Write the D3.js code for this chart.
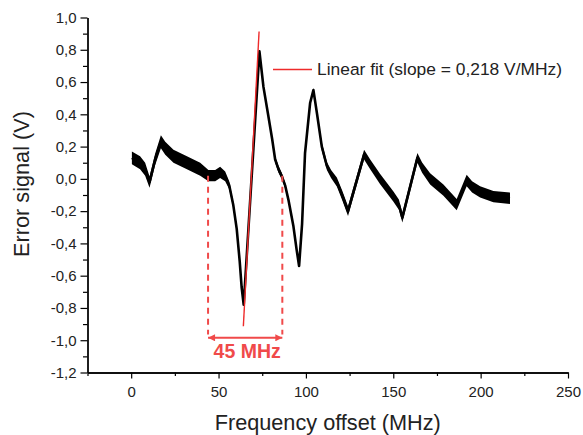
<!DOCTYPE html>
<html>
<head>
<meta charset="utf-8">
<script src="https://cdn.jsdelivr.net/npm/d3@7"></script>
<style>
  html, body { margin: 0; padding: 0; background: #fff; }
  svg { display: block; }
  text { font-family: "Liberation Sans", Arial, sans-serif; }
</style>
</head>
<body>
<svg id="chart" width="583" height="435"></svg>
<script>
// ---- data ----
const freq = [0.4, 5.1, 8.0, 10.5, 13.7, 17.0, 19.5, 24.2, 31.9, 39.5, 44.2, 48.1, 50.9,
              53.8, 56.1, 58.4, 60.4, 62.1, 63.2, 64.4,
              73.4, 75.7, 78.5, 80.7, 82.4, 84.3, 86.2, 88.1, 90.0, 92.8, 94.7, 96.1,
              97.8, 99.5, 102.4, 104.3, 106.4, 109.1, 112.0, 114.4, 117.7, 120.7, 124.1,
              133.3, 136.8, 142.4, 150.1, 153.2, 155.2,
              163.8, 166.5, 171.1, 178.7, 186.3, 192.0, 195.1, 199.7, 207.3, 216.8];
const signal = [0.13, 0.10, 0.06, -0.02, 0.12, 0.23, 0.19, 0.14, 0.10, 0.06, 0.02, 0.02, 0.04,
                0.015, -0.04, -0.16, -0.31, -0.51, -0.67, -0.78,
                0.79, 0.57, 0.39, 0.245, 0.12, 0.06, 0.017, -0.04, -0.13, -0.29, -0.44, -0.54,
                -0.28, 0.16, 0.47, 0.55, 0.40, 0.20, 0.08, 0.03, -0.02, -0.10, -0.20,
                0.15, 0.09, 0.00, -0.11, -0.16, -0.24,
                0.13, 0.07, 0.00, -0.07, -0.16, -0.01, -0.05, -0.08, -0.11, -0.12];
const noise = [0.04, 0.04, 0.04, 0.035, 0.035, 0.04, 0.04, 0.04, 0.04, 0.04, 0.035, 0.035, 0.035,
               0.03, 0.025, 0.02, 0.015, 0.012, 0.01, 0.01,
               0.01, 0.012, 0.015, 0.018, 0.02, 0.022, 0.02, 0.018, 0.015, 0.012, 0.01, 0.01,
               0.01, 0.01, 0.01, 0.012, 0.02, 0.025, 0.025, 0.025, 0.028, 0.03, 0.03,
               0.03, 0.03, 0.032, 0.032, 0.032, 0.03,
               0.03, 0.032, 0.035, 0.035, 0.035, 0.035, 0.035, 0.035, 0.035, 0.035];
const fitFreq = [64.2, 73.2];
const fitSignal = [-0.913, 0.913];
const spanFreq = [44.0, 86.5];
const spanTop = 0.02, spanBottom = -0.965, arrowLevel = -0.985;
const spanLabel = "45 MHz";
const legendLabel = "Linear fit (slope = 0,218 V/MHz)";
const xTicks = [0, 50, 100, 150, 200, 250];
const xMinorTicks = [-25, 25, 75, 125, 175, 225];
const yTicks = [-1.2, -1.0, -0.8, -0.6, -0.4, -0.2, 0.0, 0.2, 0.4, 0.6, 0.8, 1.0];
const yMinorTicks = [-1.1, -0.9, -0.7, -0.5, -0.3, -0.1, 0.1, 0.3, 0.5, 0.7, 0.9];
const xTitle = "Frequency offset (MHz)";
const yTitle = "Error signal (V)";

// ---- layout ----
const svg = d3.select("#chart");
const mLeft = 87.5, mRight = 568, mTop = 17.5, mBottom = 372.5;
const x = d3.scaleLinear().domain([-25, 250]).range([mLeft, mRight]);
const y = d3.scaleLinear().domain([-1.2, 1.0]).range([mBottom, mTop]);
const red = "#ee2b2b", lightRed = "#f04a4a";

const loc = d3.formatLocale({decimal: ",", thousands: ".", grouping: [3], currency: ["", ""], minus: "-"});
const fmt = loc.format(".1f");

// axes
const xAxis = d3.axisBottom(x).tickValues(xTicks).tickFormat(d3.format("d")).tickSize(6).tickSizeOuter(0);
const xMinor = d3.axisBottom(x).tickValues(xMinorTicks).tickFormat("").tickSize(3.5).tickSizeOuter(0);
const yAxis = d3.axisLeft(y).tickValues(yTicks).tickFormat(fmt).tickSize(7).tickSizeOuter(0);
const yMinor = d3.axisLeft(y).tickValues(yMinorTicks).tickFormat("").tickSize(4.5).tickSizeOuter(0);

function styleAxis(g) {
  g.select(".domain").attr("stroke", "#000").attr("stroke-width", 1.3);
  g.selectAll(".tick line").attr("stroke", "#000").attr("stroke-width", 1.2);
  g.selectAll(".tick text").attr("fill", "#222").style("font-size", "15px")
    .style("font-family", "'Liberation Sans', Arial, sans-serif");
}
svg.append("g").attr("transform", `translate(0,${mBottom})`).call(xMinor).call(styleAxis);
svg.append("g").attr("transform", `translate(0,${mBottom})`).call(xAxis).call(styleAxis)
  .selectAll(".tick text").attr("dy", "0.95em").attr("y", 10);
svg.append("g").attr("transform", `translate(${mLeft},0)`).call(yMinor).call(styleAxis);
svg.append("g").attr("transform", `translate(${mLeft},0)`).call(yAxis).call(styleAxis)
  .selectAll(".tick text").attr("x", -11);

// axis titles
svg.append("text").attr("x", (mLeft + mRight) / 2).attr("y", 430).attr("text-anchor", "middle")
  .style("font-size", "21.7px").attr("fill", "#222").text(xTitle);
svg.append("text").attr("transform", "translate(29,184) rotate(-90)")
  .attr("text-anchor", "middle").style("font-size", "21.7px").attr("fill", "#222").text(yTitle);

// data
const pts = freq.map((f, i) => ({f, v: signal[i], n: noise[i]}));
svg.append("path").datum(pts)
  .attr("d", d3.area().x(d => x(d.f)).y0(d => y(d.v - d.n)).y1(d => y(d.v + d.n)))
  .attr("fill", "#000");
svg.append("path").datum(pts)
  .attr("d", d3.line().x(d => x(d.f)).y(d => y(d.v)))
  .attr("fill", "none").attr("stroke", "#000").attr("stroke-width", 2.6).attr("stroke-linejoin", "round");

// span markers
const defs = svg.append("defs");
["start", "end"].forEach(k => {
  defs.append("marker").attr("id", "arr-" + k).attr("viewBox", "0 0 10 10")
    .attr("refX", k === "end" ? 10 : 0).attr("refY", 5).attr("markerWidth", 9).attr("markerHeight", 7)
    .attr("markerUnits", "userSpaceOnUse").attr("orient", "auto")
    .append("path").attr("d", k === "end" ? "M0,0L10,5L0,10Z" : "M10,0L0,5L10,10Z").attr("fill", lightRed);
});
spanFreq.forEach(f => {
  svg.append("line").attr("x1", x(f)).attr("x2", x(f)).attr("y1", y(spanTop)).attr("y2", y(spanBottom))
    .attr("stroke", lightRed).attr("stroke-width", 2).attr("stroke-dasharray", "6,5");
});
svg.append("line").attr("x1", x(spanFreq[0])).attr("x2", x(spanFreq[1]))
  .attr("y1", y(arrowLevel)).attr("y2", y(arrowLevel))
  .attr("stroke", lightRed).attr("stroke-width", 2)
  .attr("marker-start", "url(#arr-start)").attr("marker-end", "url(#arr-end)");
svg.append("text").attr("x", x((spanFreq[0] + spanFreq[1]) / 2) + 2).attr("y", 358)
  .attr("text-anchor", "middle").style("font-size", "19.5px").style("font-weight", "bold")
  .attr("fill", lightRed).text(spanLabel);

// linear fit
svg.append("path").datum(fitFreq.map((f, i) => [f, fitSignal[i]]))
  .attr("d", d3.line().x(d => x(d[0])).y(d => y(d[1])))
  .attr("stroke", red).attr("stroke-width", 1.4).attr("fill", "none");

// legend
svg.append("line").attr("x1", 273).attr("x2", 312).attr("y1", 69.5).attr("y2", 69.5)
  .attr("stroke", red).attr("stroke-width", 1.4);
svg.append("text").attr("x", 317).attr("y", 74.5).style("font-size", "17.4px").attr("fill", "#222")
  .text(legendLabel);
</script>
</body>
</html>
